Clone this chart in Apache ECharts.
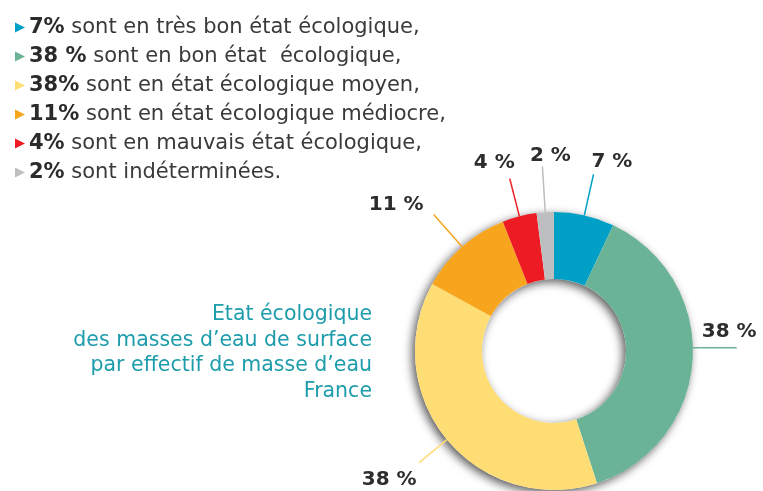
<!DOCTYPE html>
<html>
<head>
<meta charset="utf-8">
<style>
  html, body { margin: 0; padding: 0; background: #fff; }
  #main { width: 763px; height: 491px; }
</style>
<script src="https://cdn.jsdelivr.net/npm/echarts@6/dist/echarts.min.js"></script>
</head>
<body>
<div id="main"></div>
<script>
// chart data
const categories = ["Très bon", "Bon", "Moyen", "Médiocre", "Mauvais", "Indéterminé"];
const values = [7, 38, 38, 11, 4, 2];
const legendLead = ["7%", "38 %", "38%", "11%", "4%", "2%"];
const legendRest = [
  " sont en très bon état écologique,",
  " sont en bon état  écologique,",
  " sont en état écologique moyen,",
  " sont en état écologique médiocre,",
  " sont en mauvais état écologique,",
  " sont indéterminées."
];
const titleLines = [
  "Etat écologique",
  "des masses d’eau de surface",
  "par effectif de masse d’eau",
  "France"
];

const colors = ["#00a0c6", "#6ab396", "#fedd75", "#f7a51c", "#ed1c24", "#bcbec0"];
// label line length and where the text sits relative to the line end
const lineLen = [42, 44, 36, 43, 39, 46];
const labelAnchor = [
  { dx: -2, dy: -3, align: "left", va: "bottom" },
  { dx: -35, dy: -6, align: "left", va: "bottom" },
  { dx: -30, dy: 7, align: "center", va: "top" },
  { dx: -10, dy: 0, align: "right", va: "bottom" },
  { dx: 5, dy: -6, align: "right", va: "bottom" },
  { dx: 8, dy: -1, align: "center", va: "bottom" }
];

const chart = echarts.init(document.getElementById("main"));
const font = "'DejaVu Sans', Verdana, sans-serif";

const option = {
  animation: false,
  color: colors,
  title: {
    text: titleLines.join("\n"),
    left: 372,
    top: 302,
    padding: 0,
    textAlign: "right",
    textStyle: {
      color: "#1d9cab",
      fontFamily: font,
      fontWeight: "normal",
      fontSize: 20.5,
      lineHeight: 25.5
    }
  },
  legend: {
    orient: "vertical",
    left: 10,
    top: 12,
    itemWidth: 10,
    itemHeight: 10,
    itemGap: 8,
    selectedMode: false,
    icon: "path://M0,0L10,5L0,10Z",
    data: categories,
    formatter: (name) => {
      const i = categories.indexOf(name);
      return "{b|" + legendLead[i] + "}{n|" + legendRest[i] + "}";
    },
    textStyle: {
      padding: [0, 0, 0, -1],
      rich: {
        b: { fontFamily: font, fontSize: 21, fontWeight: "bold", color: "#2b2b2b", lineHeight: 21 },
        n: { fontFamily: font, fontSize: 21, color: "#3a3a3a", lineHeight: 21 }
      }
    }
  },
  series: [
    {
      // ring shadow underneath
      type: "pie",
      silent: true,
      center: [554, 351],
      radius: [72, 139],
      label: { show: false },
      labelLine: { show: false },
      itemStyle: {
        color: "#ffffff",
        shadowBlur: 10,
        shadowOffsetX: -3,
        shadowOffsetY: 3,
        shadowColor: "rgba(0,0,0,0.65)"
      },
      data: [{ value: 1, name: "" }],
      z: 1
    },
    {
      type: "pie",
      center: [554, 351],
      radius: [72, 139],
      startAngle: 90,
      clockwise: true,
      avoidLabelOverlap: false,
      z: 2,
      data: categories.map((c, i) => ({
        name: c,
        value: values[i],
        labelLine: { length: lineLen[i], length2: 0 }
      })),
      label: {
        show: true,
        position: "outside",
        overflow: "none",
        formatter: (p) => p.value + " %",
        fontFamily: font,
        fontWeight: "bold",
        fontSize: 20,
        color: "#2d2d2d"
      },
      labelLine: {
        show: true,
        smooth: false,
        lineStyle: { width: 1.5 }
      },
      labelLayout: (params) => {
        let pts = params.labelLinePoints;
        if (!pts) return {};
        if (params.dataIndex === 1) {
          // horizontal leader for the right-hand label
          const s = pts[0];
          pts = [[s[0], s[1] - 12], [s[0] + lineLen[1], s[1] - 12], [s[0] + lineLen[1], s[1] - 12]];
        }
        const end = pts[pts.length - 1];
        const a = labelAnchor[params.dataIndex];
        return {
          x: end[0] + a.dx,
          y: end[1] + a.dy,
          align: a.align,
          verticalAlign: a.va,
          labelLinePoints: pts
        };
      },
      emphasis: { disabled: true }
    }
  ]
};

chart.setOption(option);
</script>
</body>
</html>
